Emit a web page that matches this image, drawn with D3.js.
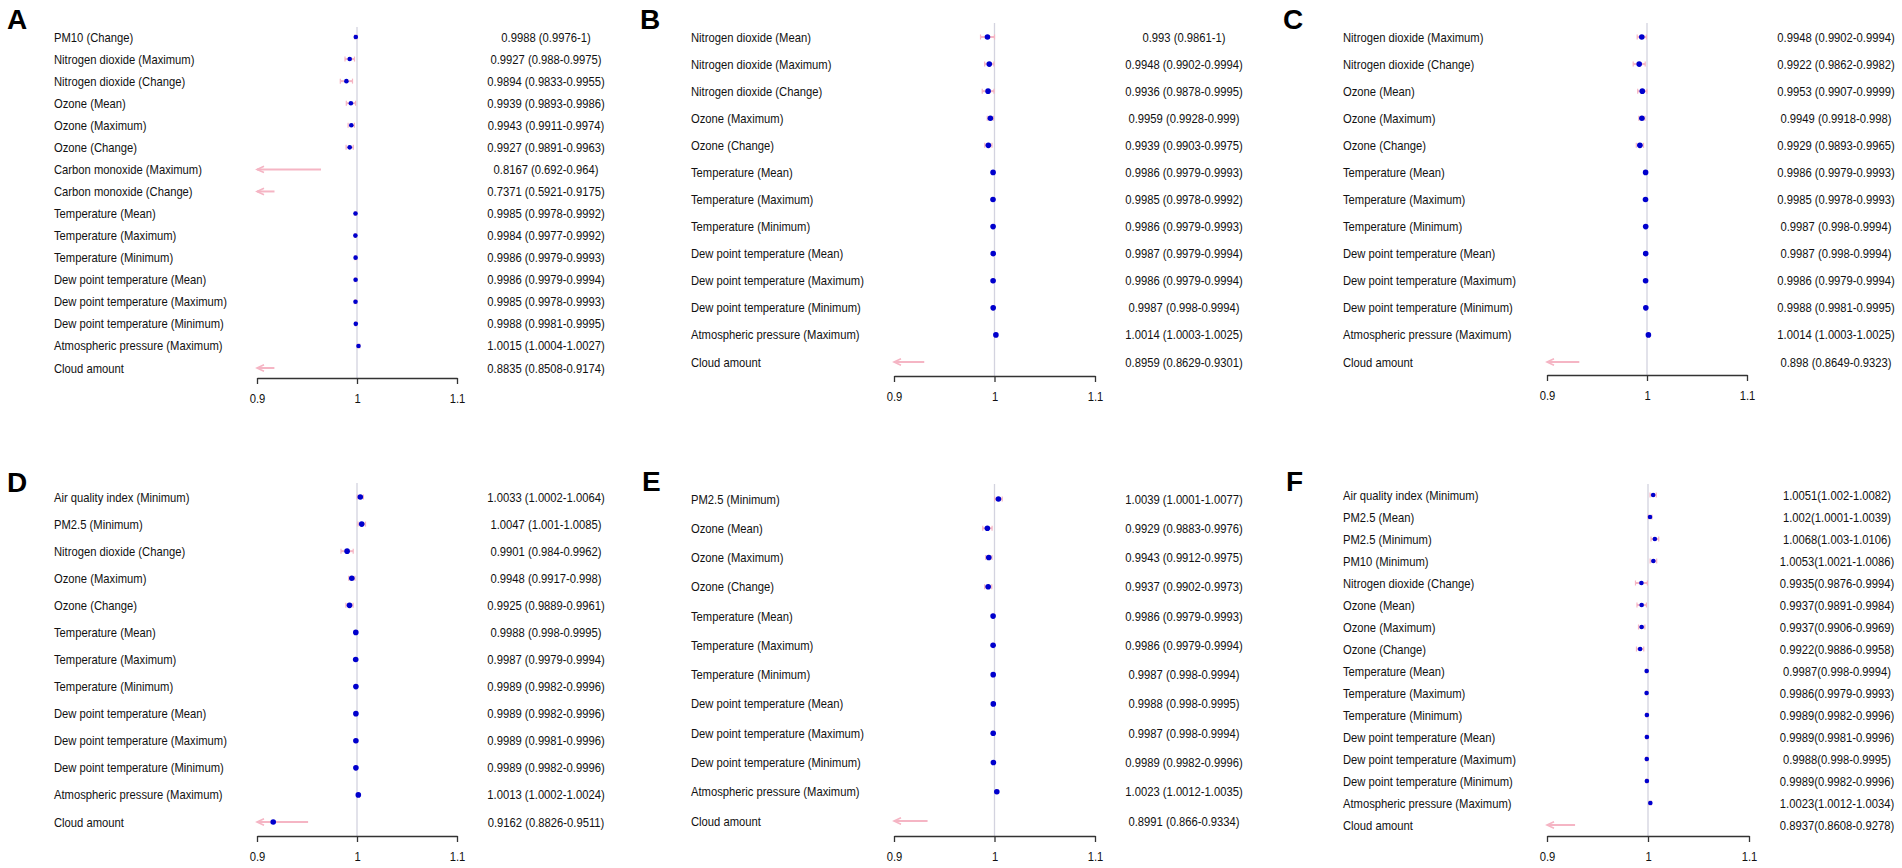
<!DOCTYPE html>
<html>
<head>
<meta charset="utf-8">
<script src="https://cdn.jsdelivr.net/npm/d3@7"></script>
<style>
  body { margin: 0; background: #fff; }
  text { font-family: "Liberation Sans", Arial, Helvetica, sans-serif; }
</style>
</head>
<body>
<div id="chart"></div>
<script>
// ---- data ----
const labelsA = ["PM10 (Change)", "Nitrogen dioxide (Maximum)", "Nitrogen dioxide (Change)", "Ozone (Mean)",
  "Ozone (Maximum)", "Ozone (Change)", "Carbon monoxide (Maximum)", "Carbon monoxide (Change)",
  "Temperature (Mean)", "Temperature (Maximum)", "Temperature (Minimum)", "Dew point temperature (Mean)",
  "Dew point temperature (Maximum)", "Dew point temperature (Minimum)", "Atmospheric pressure (Maximum)", "Cloud amount"];
const orA   = [0.9988, 0.9927, 0.9894, 0.9939, 0.9943, 0.9927, 0.8167, 0.7371, 0.9985, 0.9984, 0.9986, 0.9986, 0.9985, 0.9988, 1.0015, 0.8835];
const lowA  = [0.9976, 0.988, 0.9833, 0.9893, 0.9911, 0.9891, 0.692, 0.5921, 0.9978, 0.9977, 0.9979, 0.9979, 0.9978, 0.9981, 1.0004, 0.8508];
const highA = [1, 0.9975, 0.9955, 0.9986, 0.9974, 0.9963, 0.964, 0.9175, 0.9992, 0.9992, 0.9993, 0.9994, 0.9993, 0.9995, 1.0027, 0.9174];

const labelsB = ["Nitrogen dioxide (Mean)", "Nitrogen dioxide (Maximum)", "Nitrogen dioxide (Change)", "Ozone (Maximum)",
  "Ozone (Change)", "Temperature (Mean)", "Temperature (Maximum)", "Temperature (Minimum)", "Dew point temperature (Mean)",
  "Dew point temperature (Maximum)", "Dew point temperature (Minimum)", "Atmospheric pressure (Maximum)", "Cloud amount"];
const orB   = [0.993, 0.9948, 0.9936, 0.9959, 0.9939, 0.9986, 0.9985, 0.9986, 0.9987, 0.9986, 0.9987, 1.0014, 0.8959];
const lowB  = [0.9861, 0.9902, 0.9878, 0.9928, 0.9903, 0.9979, 0.9978, 0.9979, 0.9979, 0.9979, 0.998, 1.0003, 0.8629];
const highB = [1, 0.9994, 0.9995, 0.999, 0.9975, 0.9993, 0.9992, 0.9993, 0.9994, 0.9994, 0.9994, 1.0025, 0.9301];

const labelsC = ["Nitrogen dioxide (Maximum)", "Nitrogen dioxide (Change)", "Ozone (Mean)", "Ozone (Maximum)",
  "Ozone (Change)", "Temperature (Mean)", "Temperature (Maximum)", "Temperature (Minimum)", "Dew point temperature (Mean)",
  "Dew point temperature (Maximum)", "Dew point temperature (Minimum)", "Atmospheric pressure (Maximum)", "Cloud amount"];
const orC   = [0.9948, 0.9922, 0.9953, 0.9949, 0.9929, 0.9986, 0.9985, 0.9987, 0.9987, 0.9986, 0.9988, 1.0014, 0.898];
const lowC  = [0.9902, 0.9862, 0.9907, 0.9918, 0.9893, 0.9979, 0.9978, 0.998, 0.998, 0.9979, 0.9981, 1.0003, 0.8649];
const highC = [0.9994, 0.9982, 0.9999, 0.998, 0.9965, 0.9993, 0.9993, 0.9994, 0.9994, 0.9994, 0.9995, 1.0025, 0.9323];

const labelsD = ["Air quality index (Minimum)", "PM2.5 (Minimum)", "Nitrogen dioxide (Change)", "Ozone (Maximum)",
  "Ozone (Change)", "Temperature (Mean)", "Temperature (Maximum)", "Temperature (Minimum)", "Dew point temperature (Mean)",
  "Dew point temperature (Maximum)", "Dew point temperature (Minimum)", "Atmospheric pressure (Maximum)", "Cloud amount"];
const orD   = [1.0033, 1.0047, 0.9901, 0.9948, 0.9925, 0.9988, 0.9987, 0.9989, 0.9989, 0.9989, 0.9989, 1.0013, 0.9162];
const lowD  = [1.0002, 1.001, 0.984, 0.9917, 0.9889, 0.998, 0.9979, 0.9982, 0.9982, 0.9981, 0.9982, 1.0002, 0.8826];
const highD = [1.0064, 1.0085, 0.9962, 0.998, 0.9961, 0.9995, 0.9994, 0.9996, 0.9996, 0.9996, 0.9996, 1.0024, 0.9511];

const labelsE = ["PM2.5 (Minimum)", "Ozone (Mean)", "Ozone (Maximum)", "Ozone (Change)", "Temperature (Mean)",
  "Temperature (Maximum)", "Temperature (Minimum)", "Dew point temperature (Mean)", "Dew point temperature (Maximum)",
  "Dew point temperature (Minimum)", "Atmospheric pressure (Maximum)", "Cloud amount"];
const orE   = [1.0039, 0.9929, 0.9943, 0.9937, 0.9986, 0.9986, 0.9987, 0.9988, 0.9987, 0.9989, 1.0023, 0.8991];
const lowE  = [1.0001, 0.9883, 0.9912, 0.9902, 0.9979, 0.9979, 0.998, 0.998, 0.998, 0.9982, 1.0012, 0.866];
const highE = [1.0077, 0.9976, 0.9975, 0.9973, 0.9993, 0.9994, 0.9994, 0.9995, 0.9994, 0.9996, 1.0035, 0.9334];

const labelsF = ["Air quality index (Minimum)", "PM2.5 (Mean)", "PM2.5 (Minimum)", "PM10 (Minimum)",
  "Nitrogen dioxide (Change)", "Ozone (Mean)", "Ozone (Maximum)", "Ozone (Change)", "Temperature (Mean)",
  "Temperature (Maximum)", "Temperature (Minimum)", "Dew point temperature (Mean)", "Dew point temperature (Maximum)",
  "Dew point temperature (Minimum)", "Atmospheric pressure (Maximum)", "Cloud amount"];
const orF   = [1.0051, 1.002, 1.0068, 1.0053, 0.9935, 0.9937, 0.9937, 0.9922, 0.9987, 0.9986, 0.9989, 0.9989, 0.9988, 0.9989, 1.0023, 0.8937];
const lowF  = [1.002, 1.0001, 1.003, 1.0021, 0.9876, 0.9891, 0.9906, 0.9886, 0.998, 0.9979, 0.9982, 0.9981, 0.998, 0.9982, 1.0012, 0.8608];
const highF = [1.0082, 1.0039, 1.0106, 1.0086, 0.9994, 0.9984, 0.9969, 0.9958, 0.9994, 0.9993, 0.9996, 0.9996, 0.9995, 0.9996, 1.0034, 0.9278];

const xTicks = [0.9, 1, 1.1];

// ---- panel placement ----
const panels = [
  {id: "A", labels: labelsA, or: orA, lo: lowA, hi: highA, sep: " ",
   letterX: 7, letterY: 29, labelX: 54, axL: 257, axR: 457, axisY: 378, rowTop: 37, rowBot: 368, refTop: 27, valX: 546, r: 2.3},
  {id: "B", labels: labelsB, or: orB, lo: lowB, hi: highB, sep: " ",
   letterX: 640, letterY: 29, labelX: 691, axL: 894, axR: 1095, axisY: 376, rowTop: 37, rowBot: 362, refTop: 23, valX: 1184, r: 2.8},
  {id: "C", labels: labelsC, or: orC, lo: lowC, hi: highC, sep: " ",
   letterX: 1283, letterY: 29, labelX: 1343, axL: 1547, axR: 1747, axisY: 375, rowTop: 37, rowBot: 362, refTop: 23, valX: 1836, r: 2.8},
  {id: "D", labels: labelsD, or: orD, lo: lowD, hi: highD, sep: " ",
   letterX: 7, letterY: 492, labelX: 54, axL: 257, axR: 457, axisY: 836, rowTop: 497, rowBot: 822, refTop: 483, valX: 546, r: 2.8},
  {id: "E", labels: labelsE, or: orE, lo: lowE, hi: highE, sep: " ",
   letterX: 642, letterY: 491, labelX: 691, axL: 894, axR: 1095, axisY: 836, rowTop: 499, rowBot: 821, refTop: 484, valX: 1184, r: 2.8},
  {id: "F", labels: labelsF, or: orF, lo: lowF, hi: highF, sep: "",
   letterX: 1286, letterY: 491, labelX: 1343, axL: 1547, axR: 1749, axisY: 836, rowTop: 495, rowBot: 825, refTop: 484, valX: 1837, r: 2.3}
];

const ciColor = "#f5b5c4";
const dotColor = "#0000cd";
const fontSize = 13;
const squeeze = "scale(0.865,1)";   // the figure's text is narrower than Arial

const svg = d3.select("#chart").append("svg")
  .attr("width", 1902)
  .attr("height", 868);

function drawPanel(p) {
  const g = svg.append("g");
  const x = d3.scaleLinear().domain([0.9, 1.1]).range([p.axL, p.axR]);
  const y = d3.scalePoint().domain(p.labels).range([p.rowTop, p.rowBot]);
  const rows = p.labels.map((l, i) => ({label: l, or: p.or[i], lo: p.lo[i], hi: p.hi[i]}));
  const [dMin, dMax] = x.domain();

  // panel letter
  g.append("text")
    .attr("x", p.letterX)
    .attr("y", p.letterY)
    .style("font-size", "28px")
    .style("font-weight", "bold")
    .text(p.id);

  // reference line at 1
  g.append("line")
    .attr("x1", x(1)).attr("x2", x(1))
    .attr("y1", p.refTop).attr("y2", p.axisY)
    .attr("stroke", "#d3d3df")
    .attr("stroke-width", 1.3);

  // confidence intervals, clipped to the axis range
  const ci = g.selectAll(".ci").data(rows).join("g").attr("class", "ci");
  ci.append("line")
    .attr("x1", d => x(Math.max(d.lo, dMin)))
    .attr("x2", d => x(Math.min(d.hi, dMax)))
    .attr("y1", d => y(d.label)).attr("y2", d => y(d.label))
    .attr("stroke", ciColor)
    .attr("stroke-width", 2);

  // end caps, only on intervals that stay inside the range
  const inside = ci.filter(d => d.lo >= dMin && d.hi <= dMax);
  inside.append("line")
    .attr("x1", d => x(d.lo)).attr("x2", d => x(d.lo))
    .attr("y1", d => y(d.label) - 2.5).attr("y2", d => y(d.label) + 2.5)
    .attr("stroke", ciColor).attr("stroke-width", 1.2);
  inside.append("line")
    .attr("x1", d => x(d.hi)).attr("x2", d => x(d.hi))
    .attr("y1", d => y(d.label) - 2.5).attr("y2", d => y(d.label) + 2.5)
    .attr("stroke", ciColor).attr("stroke-width", 1.2);

  // arrow heads where the interval runs off the left side
  ci.filter(d => d.lo < dMin).append("path")
    .attr("d", d => {
      const x0 = x(dMin), yy = y(d.label);
      return `M${x0 + 7},${yy - 3.2}L${x0},${yy}L${x0 + 7},${yy + 3.2}`;
    })
    .attr("fill", "none")
    .attr("stroke", ciColor)
    .attr("stroke-width", 1.6);

  // point estimates
  g.selectAll(".pt").data(rows.filter(d => d.or >= dMin && d.or <= dMax)).join("circle")
    .attr("class", "pt")
    .attr("cx", d => x(d.or))
    .attr("cy", d => y(d.label))
    .attr("r", p.r)
    .attr("fill", dotColor);

  // row labels
  g.selectAll(".lab").data(rows).join("text")
    .attr("class", "lab")
    .attr("transform", d => `translate(${p.labelX},${y(d.label)}) ${squeeze}`)
    .attr("dy", "0.35em")
    .style("font-size", fontSize + "px")
    .attr("fill", "#111")
    .text(d => d.label);

  // estimate (CI) column
  g.selectAll(".val").data(rows).join("text")
    .attr("class", "val")
    .attr("transform", d => `translate(${p.valX},${y(d.label)}) ${squeeze}`)
    .attr("dy", "0.35em")
    .attr("text-anchor", "middle")
    .style("font-size", fontSize + "px")
    .attr("fill", "#111")
    .text(d => `${d.or}${p.sep}(${d.lo}-${d.hi})`);

  // x axis
  const ax = g.append("g")
    .attr("transform", `translate(0,${p.axisY})`)
    .call(d3.axisBottom(x)
      .tickValues(xTicks)
      .tickFormat(d => String(d))
      .tickSizeInner(6)
      .tickSizeOuter(0)
      .tickPadding(10));
  ax.select(".domain").attr("stroke", "#333").attr("stroke-width", 1.3);
  ax.selectAll(".tick line").attr("stroke", "#333").attr("stroke-width", 1.3);
  ax.selectAll(".tick text")
    .attr("transform", squeeze)
    .style("font-size", fontSize + "px")
    .style("font-family", "'Liberation Sans', Arial, sans-serif")
    .attr("fill", "#111");
}

panels.forEach(drawPanel);
</script>
</body>
</html>
